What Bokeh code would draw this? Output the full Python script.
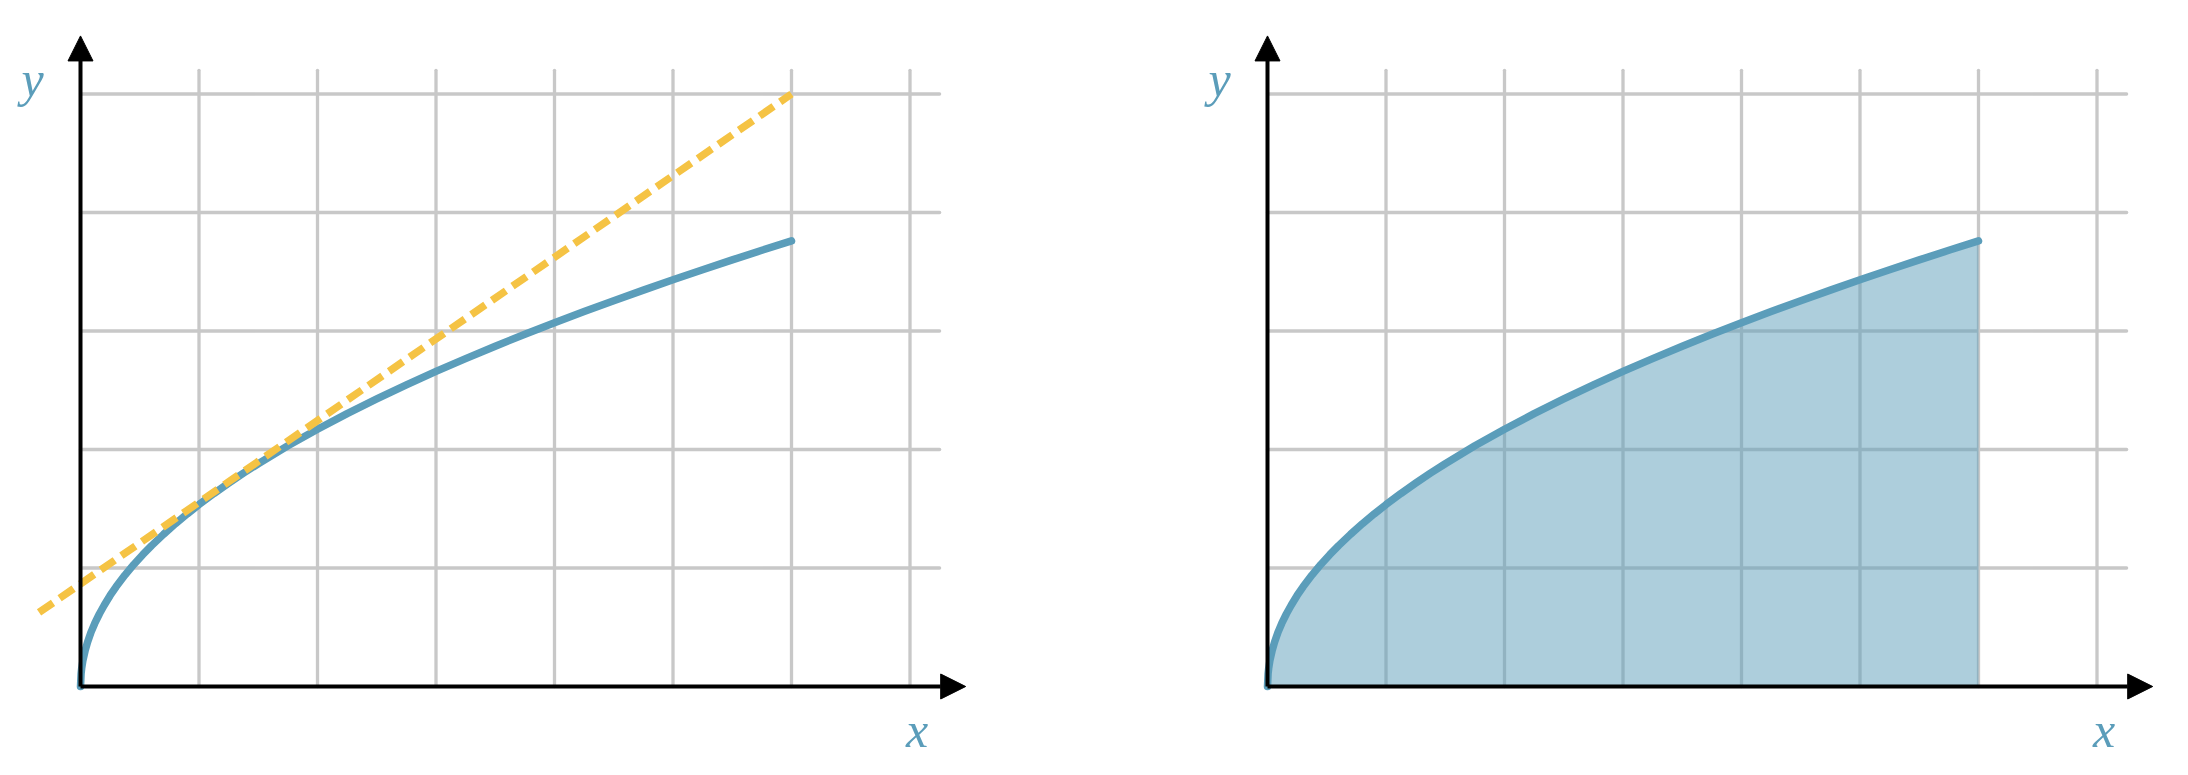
from bokeh.plotting import figure
from bokeh.layouts import row
from bokeh.models import Arrow, NormalHead, Label, Range1d
from bokeh.embed import file_html
from bokeh.resources import INLINE

# ---- data ----
curve_x = [0, 0.005, 0.01, 0.02, 0.04, 0.06, 0.09, 0.12, 0.16, 0.2, 0.25, 0.3, 0.375, 0.45,
           0.525, 0.6, 0.7, 0.8, 0.9, 1.0, 1.125, 1.25, 1.375, 1.5, 1.75,
           2.0, 2.25, 2.5, 2.75, 3.0, 3.25, 3.5, 3.75, 4.0, 4.25, 4.5, 4.75,
           5.0, 5.25, 5.5, 5.75, 6.0]
curve_y = [0, 0.109, 0.154, 0.217, 0.307, 0.376, 0.461, 0.532, 0.614, 0.686, 0.768, 0.841,
           0.940, 1.030, 1.112, 1.189, 1.284, 1.373, 1.456, 1.535, 1.628, 1.716, 1.800, 1.880,
           2.031, 2.171, 2.303, 2.427, 2.545, 2.659, 2.767, 2.872, 2.973, 3.070, 3.165, 3.256,
           3.345, 3.432, 3.517, 3.600, 3.681, 3.760]
tangent_x = [-0.35, 6.0]
tangent_y = [0.625, 5.0]
grid_x = [1, 2, 3, 4, 5, 6, 7]
grid_y = [1, 2, 3, 4, 5]
x_label = "x"
y_label = "y"

BLUE = "#5b9dba"
YELLOW = "#f5c344"
GRID = "#c8c8c8"
PX = 118.5          # pixels per unit
LEFT_PAD = 80       # pixels from frame left to origin
TOP_PAD = 686       # pixels from frame top to origin
HEIGHT = 765
GRID_TOP = 5.2
GRID_RIGHT = 7.25
X_TIP = 7.47
Y_TIP = 5.49


def make_panel(width, show_tangent, show_area):
    x0 = -LEFT_PAD / PX
    p = figure(width=width, height=HEIGHT,
               x_range=Range1d(x0, x0 + width / PX),
               y_range=Range1d(-(HEIGHT - TOP_PAD) / PX, TOP_PAD / PX),
               output_backend="svg", toolbar_location=None,
               x_axis_location=None, y_axis_location=None,
               min_border=0, outline_line_color=None,
               background_fill_color="white", border_fill_color="white")
    p.xgrid.visible = False
    p.ygrid.visible = False
    # grid
    p.segment(x0=grid_x, y0=[0] * len(grid_x), x1=grid_x, y1=[GRID_TOP] * len(grid_x),
              line_color=GRID, line_width=3.3, line_cap="round", level="underlay")
    p.segment(x0=[0] * len(grid_y), y0=grid_y, x1=[GRID_RIGHT] * len(grid_y), y1=grid_y,
              line_color=GRID, line_width=3.3, line_cap="round", level="underlay")
    if show_area:
        p.varea(x=curve_x, y1=[0] * len(curve_x), y2=curve_y,
                fill_color=BLUE, fill_alpha=0.5, level="underlay")
    # axes with arrows
    for (xe, ye) in [(X_TIP, 0), (0, Y_TIP)]:
        p.add_layout(Arrow(end=NormalHead(size=25, fill_color="black", line_color="black",
                                          line_width=1),
                           x_start=0, y_start=0, x_end=xe, y_end=ye,
                           line_width=4, line_color="black", level="glyph"))
    # curve
    p.line(curve_x, curve_y, line_color=BLUE, line_width=7.5,
           line_cap="round", line_join="round")
    if show_tangent:
        p.line(tangent_x, tangent_y, line_color=YELLOW, line_width=7.5, line_dash="17 8")
    # labels
    p.add_layout(Label(x=-0.405, y=5.13, text=y_label, text_font="Liberation Serif",
                       text_font_style="italic", text_font_size="50px", text_color=BLUE,
                       text_align="center", text_baseline="alphabetic"))
    p.add_layout(Label(x=7.06, y=-0.37, text=x_label, text_font="Liberation Serif",
                       text_font_style="italic", text_font_size="50px", text_color=BLUE,
                       text_align="center", text_baseline="alphabetic"))
    return p


p1 = make_panel(1187, True, False)
p2 = make_panel(985, False, True)
layout = row(p1, p2)

open("out.html", "w").write(file_html(layout, INLINE))
